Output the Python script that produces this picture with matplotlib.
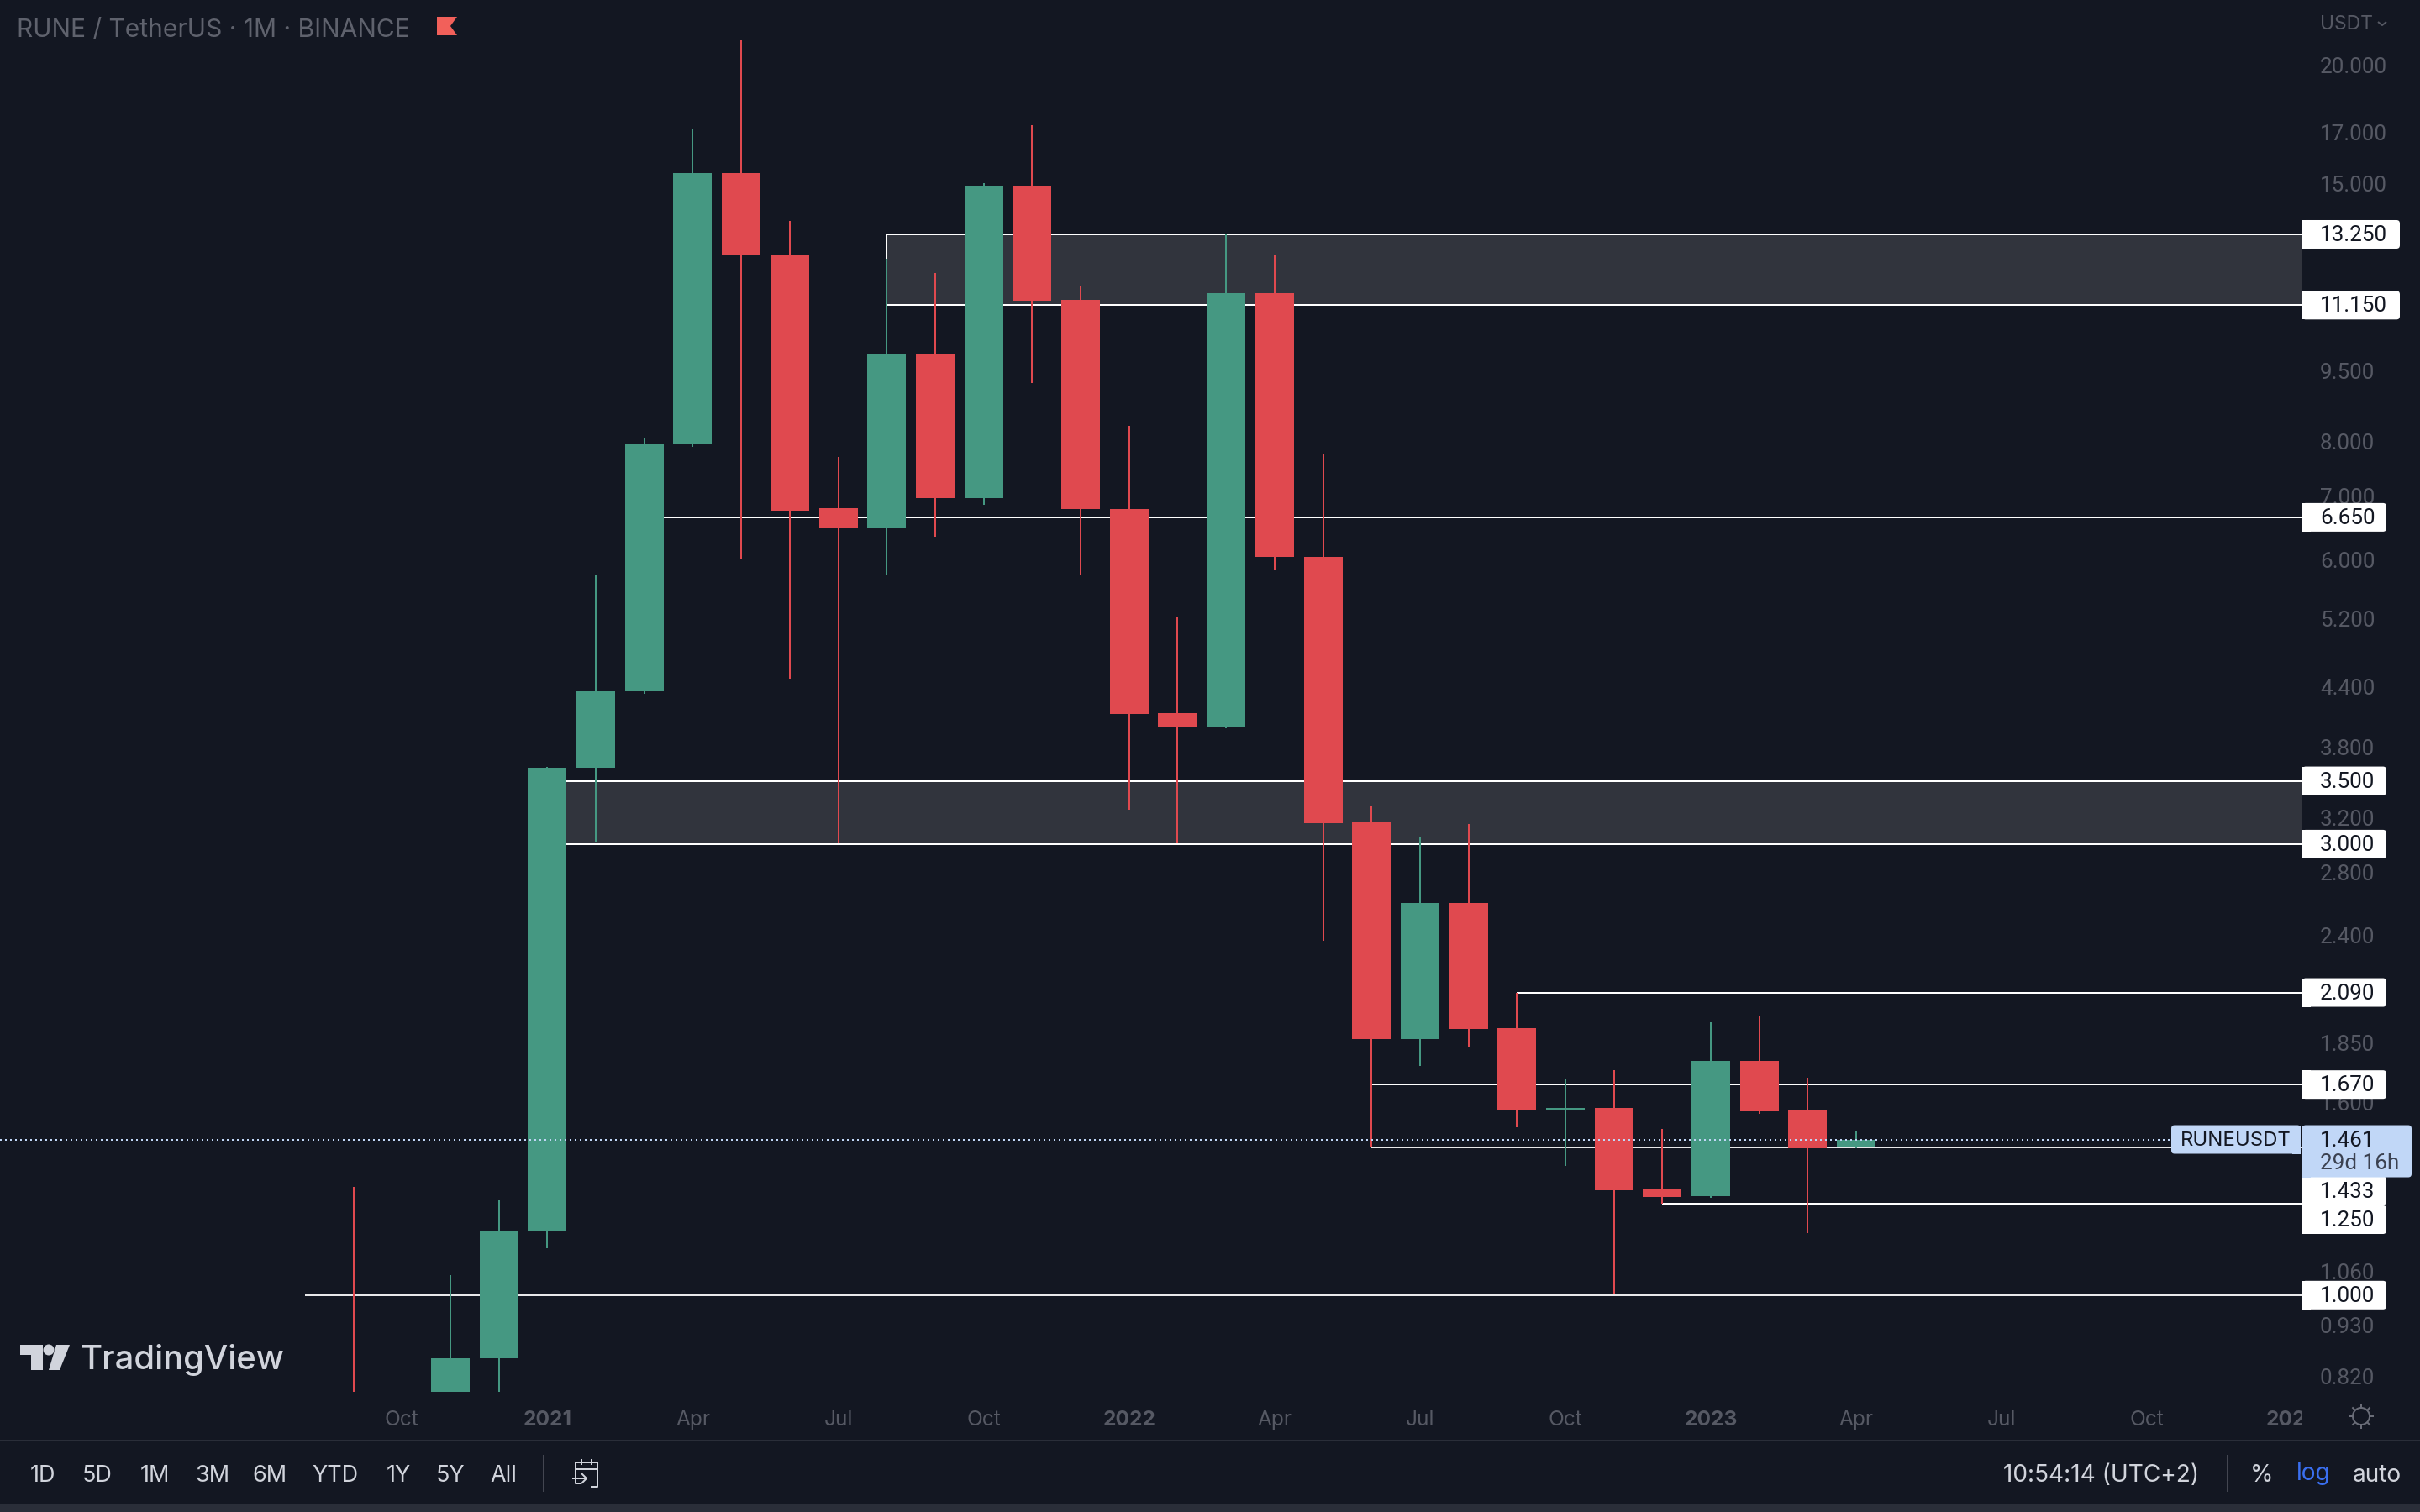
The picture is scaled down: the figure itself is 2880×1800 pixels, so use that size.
import matplotlib
matplotlib.use("Agg")
import matplotlib.pyplot as plt
from matplotlib.patches import Rectangle, FancyBboxPatch, Polygon, Circle
from matplotlib.lines import Line2D
from matplotlib.ticker import NullLocator
from matplotlib.transforms import IdentityTransform, Bbox
import math

# ---------- data ----------
months = ["2020-09", "2020-10", "2020-11", "2020-12", "2021-01", "2021-02", "2021-03", "2021-04",
          "2021-05", "2021-06", "2021-07", "2021-08", "2021-09", "2021-10", "2021-11", "2021-12",
          "2022-01", "2022-02", "2022-03", "2022-04", "2022-05", "2022-06", "2022-07", "2022-08",
          "2022-09", "2022-10", "2022-11", "2022-12", "2023-01", "2023-02", "2023-03", "2023-04"]
opens = [.75, .72, .76, .858, 1.17, 3.614, 4.35, 7.94, 15.39, 12.61, 6.8, 6.49, 9.88, 6.97, 14.88, 11.3,
         6.79, 4.13, 3.99, 11.48, 6.04, 3.164, 1.866, 2.60, 1.917, 1.568, 1.578, 1.294, 1.273, 1.77, 1.568, 1.433]
highs = [1.302, .78, 1.05, 1.26, 3.62, 5.77, 8.06, 17.1, 21.27, 13.7, 7.71, 12.48, 12.06, 15.0, 17.3, 11.66,
         8.31, 5.22, 13.25, 12.61, 7.77, 3.296, 3.05, 3.151, 2.09, 1.695, 1.73, 1.499, 1.944, 1.972, 1.699, 1.49]
lows = [.70, .68, .72, .74, 1.121, 3.018, 4.33, 7.9, 6.02, 4.49, 3.01, 5.77, 6.34, 6.86, 9.23, 5.77,
        3.26, 3.01, 3.98, 5.84, 2.37, 1.433, 1.748, 1.828, 1.505, 1.37, 1.004, 1.25, 1.268, 1.556, 1.163, 1.43]
closes = [.72, .76, .858, 1.17, 3.614, 4.35, 7.94, 15.39, 12.61, 6.76, 6.49, 9.88, 6.97, 14.88, 11.27, 6.79,
          4.12, 3.99, 11.48, 6.04, 3.16, 1.866, 2.60, 1.913, 1.568, 1.578, 1.291, 1.27, 1.77, 1.565, 1.43, 1.461]

price_ticks = [20, 17, 15, 9.5, 8, 7, 6, 5.2, 4.4, 3.8, 3.2, 2.8, 2.4, 1.85, 1.6, 1.06, .93, .82]
time_tick_pos = [1, 4, 7, 10, 13, 16, 19, 22, 25, 28, 31, 34, 37, 40]
time_tick_labels = ["Oct", "2021", "Apr", "Jul", "Oct", "2022", "Apr", "Jul", "Oct", "2023", "Apr", "Jul", "Oct", "2024"]

zone_lows = [11.15, 3.0]
zone_highs = [13.25, 3.5]
zone_starts = [11, 4]
level_values = [6.65, 2.09, 1.67, 1.433, 1.25, 1.0]
level_starts = [6, 24, 21, 21, 27, -1]
tag_values = [13.25, 11.15, 6.65, 3.5, 3.0, 2.09, 1.67, 1.433, 1.25, 1.0]
range_buttons = ["1D", "5D", "1M", "3M", "6M", "YTD", "1Y", "5Y", "All"]

# ---------- style ----------
BG = "#131722"
GREEN = "#459882"
RED = "#e0494f"
AXTXT = "#565964"
LIGHT = "#d1d4dc"
BLUE = "#c1d7f7"
NUMFONT = "Roboto"
W, H = 2880, 1800
PANE_R, PANE_B = 2740, 1657
plt.rcParams["font.family"] = ["Inter", "DejaVu Sans"]
PX = 72 / 200  # points per pixel

fig = plt.figure(figsize=(14.4, 9), dpi=200, facecolor=BG)
ax = fig.add_axes([0, 1 - PANE_B / H, PANE_R / W, PANE_B / H], facecolor=BG)
ax.set_yscale("log")
ax.set_ylim(0.790, 23.45)
ax.set_xlim(-7.29, 40.2)
for s in ax.spines.values():
    s.set_visible(False)
ax.set_axisbelow(True)

# zones and levels
for lo, hi, st in zip(zone_lows, zone_highs, zone_starts):
    ax.add_patch(Rectangle((st, lo), 60, hi - lo, facecolor="#31343d", edgecolor="white", lw=2 * PX, zorder=1.5))
for v, st in zip(level_values, level_starts):
    c = "#e8e8ea" if v in (1.433, 1.0) else "white"
    ax.hlines(v, st, 60, color=c, lw=2 * PX, zorder=1.6)

# candles
xs = list(range(len(months)))
cols = [GREEN if c >= o else RED for o, c in zip(opens, closes)]
ax.vlines(xs, lows, highs, colors=cols, lw=2 * PX, zorder=2)
ax.bar(xs, [abs(c - o) for o, c in zip(opens, closes)], bottom=[min(o, c) for o, c in zip(opens, closes)],
       width=46 / 57.7, color=cols, zorder=3, linewidth=0)

# last price line
ax.axhline(closes[-1], color=BLUE, lw=2 * PX, ls=(0, (1, 2)), zorder=4)

# axes ticks
ax.yaxis.tick_right()
ax.yaxis.set_minor_locator(NullLocator())
ax.set_yticks(price_ticks, [f"{v:.3f}" for v in price_ticks])
ax.tick_params(axis="y", length=0, pad=21 * PX, labelsize=26 * PX, labelcolor=AXTXT)
for lab in ax.get_yticklabels():
    lab.set_fontfamily(NUMFONT)
ax.set_xticks(time_tick_pos, time_tick_labels)
ax.tick_params(axis="x", length=0, pad=22 * PX, labelsize=24.5 * PX, labelcolor=AXTXT)
for lab, t in zip(ax.get_xticklabels(), time_tick_labels):
    lab.set_ha("center")
    if t.isdigit():
        lab.set_fontweight("bold")
    lab.set_clip_box(Bbox([[0, 0], [PANE_R, H]]))
    lab.set_clip_on(True)

ID = IdentityTransform()
def Y(py):
    return H - py
def ftext(px, py, s, color=LIGHT, size=25, ha="center", va="center", **kw):
    return fig.text(px, Y(py), s, transform=ID, color=color, fontsize=size * PX, ha=ha, va=va, zorder=12, **kw)
def fline(xs_, ys_, color=LIGHT, lw=2, z=11):
    fig.add_artist(Line2D(xs_, [Y(y) for y in ys_], color=color, lw=lw * PX, transform=ID, zorder=z,
                          solid_capstyle="butt"))
def frect(x0, y0, x1, y1, color, z=10):
    fig.add_artist(Rectangle((x0, Y(y1)), x1 - x0, y1 - y0, facecolor=color, edgecolor="none", transform=ID, zorder=z))
def ftag(x0, y0, x1, y1, color, z=10, r=4):
    fig.add_artist(FancyBboxPatch((x0 + r, Y(y1) + r), x1 - x0 - 2 * r, y1 - y0 - 2 * r,
                                  boxstyle=f"round,pad={r},rounding_size={r}", facecolor=color, edgecolor="none",
                                  transform=ID, zorder=z))

def price_py(v):
    return H - ax.transData.transform((0, v))[1]

# level tags
shifted = {1.433: 1417.5, 1.25: 1452}
for n, v in enumerate(tag_values):
    cy = shifted.get(v, price_py(v))
    s = f"{v:.3f}"
    right = 2856 if len(s) == 6 else 2840
    ftag(2740, cy - 17, right, cy + 17, "white", z=10 + n * 0.01)
    frect(2740, cy - 17, 2750, cy + 17, "white", z=10 + n * 0.01)
    ftext(2761, cy + 1, s, color="#131722", ha="left", size=26, family=NUMFONT)

# price tag and symbol tag
cy = price_py(closes[-1])
ftag(2740, cy - 17, 2870, cy + 45, BLUE, z=10.2)
frect(2740, cy - 17, 2750, cy + 45, BLUE, z=10.2)
ftag(2584, cy - 17, 2738, cy + 17, BLUE, z=10.2)
frect(2728, cy - 17, 2738, cy + 17, BLUE, z=10.2)
ftext(2761, cy + 1, f"{closes[-1]:.3f}", color="#131722", ha="left", size=26, family=NUMFONT)
ftext(2761, cy + 28, "29d 16h", color="#3b4150", ha="left", size=26, family=NUMFONT)
ftext(2661, cy + 1, "RUNEUSDT", color="#131722", size=24)

# header
ftext(20, 36, "RUNE / TetherUS · 1M · BINANCE", color="#5f626d", size=30, ha="left")
fig.add_artist(Polygon([(520, Y(20)), (544, Y(20)), (536, Y(31)), (544, Y(42)), (520, Y(42))], closed=True,
                       facecolor="#f2605a", edgecolor="none", transform=ID, zorder=11))
ftext(2761, 29, "USDT", color=AXTXT, size=23, ha="left")
fline([2830, 2835, 2840], [26, 30, 26], color=AXTXT, lw=2)

# TradingView logo
fig.add_artist(Polygon([(24, Y(1601)), (51, Y(1601)), (51, Y(1631)), (37, Y(1631)), (37, Y(1613)), (24, Y(1613))],
                       closed=True, facecolor=LIGHT, edgecolor="none", transform=ID, zorder=11))
fig.add_artist(Circle((58, Y(1607)), 6.5, facecolor=LIGHT, edgecolor="none", transform=ID, zorder=11))
fig.add_artist(Polygon([(67, Y(1601)), (83, Y(1601)), (71, Y(1631)), (58, Y(1631))],
                       closed=True, facecolor=LIGHT, edgecolor="none", transform=ID, zorder=11))
ftext(95, 1619, "TradingView", color=LIGHT, size=40, ha="left", fontweight="medium")

# gear
fig.add_artist(Circle((2810, Y(1686)), 10, facecolor="none", edgecolor="#6a6d78", lw=2 * PX, transform=ID, zorder=11))
for k in range(8):
    a = k * math.pi / 4
    fline([2810 + 10 * math.cos(a), 2810 + 15 * math.cos(a)], [1686 + 10 * math.sin(a), 1686 + 15 * math.sin(a)],
          color="#6a6d78")

# bottom bar
frect(0, 1714, W, 1716, "#2a2e39")
frect(0, 1791, W, H, "#2a2e39")
btn_x = [51, 116, 184, 253, 321, 399, 474, 536, 599]
for x, t in zip(btn_x, range_buttons):
    ftext(x, 1757, t, size=27)
frect(646, 1732, 648, 1776, "#434651")
frect(2650, 1732, 2652, 1776, "#434651")
fline([691, 685, 685, 711, 711, 703], [1766, 1766, 1741, 1741, 1770, 1770])
fline([685, 711], [1749, 1749])
fline([692, 692], [1737, 1744])
fline([704, 704], [1737, 1744])
fline([681, 698], [1760, 1760])
fline([692, 698, 692], [1754, 1760, 1766])
ftext(2617, 1757, "10:54:14 (UTC+2)", size=28, ha="right")
ftext(2692, 1757, "%", size=28)
ftext(2753, 1755, "log", color="#3a6ff0", size=28)
ftext(2829, 1757, "auto", size=28)

fig.savefig("out.png", dpi=200, facecolor=BG)
